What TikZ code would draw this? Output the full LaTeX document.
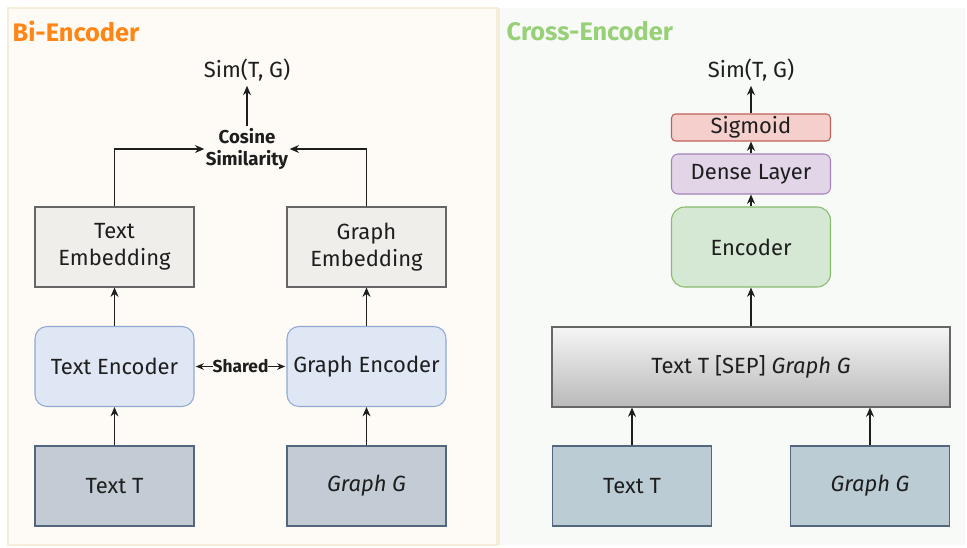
\documentclass[tikz,border=0pt]{standalone}
\usepackage{fontspec}
\setmainfont{Fira Sans}
\usetikzlibrary{arrows.meta}
\definecolor{bgL}{HTML}{FEFBF6}
\definecolor{bgR}{HTML}{F8FAF8}
\definecolor{edgeL}{HTML}{F5ECD9}
\definecolor{embfill}{HTML}{EFEEEB}
\definecolor{embdraw}{HTML}{666666}
\definecolor{encfill}{HTML}{DFE7F5}
\definecolor{encdraw}{HTML}{8FA9D3}
\definecolor{infill}{HTML}{C3CCD5}
\definecolor{infillR}{HTML}{BCCCD5}
\definecolor{indraw}{HTML}{52677D}
\definecolor{sigfill}{HTML}{F4CFCC}
\definecolor{sigdraw}{HTML}{C0605B}
\definecolor{densefill}{HTML}{E1D5E7}
\definecolor{densedraw}{HTML}{A582B8}
\definecolor{gfill}{HTML}{D5E8D4}
\definecolor{gdraw}{HTML}{88BB6C}
\definecolor{orangeT}{HTML}{FF8514}
\definecolor{greenT}{HTML}{97D077}
\definecolor{ink}{HTML}{1E1E1E}
\begin{document}
\begin{tikzpicture}[x=0.75pt,y=-0.75pt,
  txt/.style={font=\fontsize{16.5}{20}\selectfont, text=ink, align=center},
  boxbase/.style={txt, minimum width=159*0.75pt, minimum height=80*0.75pt, inner sep=0pt, line width=0.8pt},
  embbox/.style={boxbase, draw=embdraw, fill=embfill},
  encbox/.style={boxbase, draw=encdraw, fill=encfill, rounded corners=9pt},
  inbox/.style={boxbase, draw=indraw, fill=infill},
  arr/.style={-{Stealth[length=7pt,width=6pt]}, line width=0.8pt, draw=ink},
  title/.style={font=\fontsize{19}{21}\selectfont\bfseries, anchor=west}
]
\useasboundingbox (0,0) rectangle (967,547);
% panels
\fill[white] (0,0) rectangle (967,547);
\draw[fill=bgL, draw=edgeL, line width=0.8pt] (8,8) rectangle (497,545);
\fill[bgR] (499,8) rectangle (965,545);
\draw[edgeL, line width=0.8pt] (499,8) -- (499,545);
\node[title, text=orangeT] (tl) at (8,31) {Bi-Encoder};
\node[title, text=greenT] (tr) at (502,31) {Cross-Encoder};

% Bi-encoder
\node[txt] (sim1) at (247,70) {Sim(T, G)};
\node[txt, font=\fontsize{14}{17}\selectfont\bfseries, inner sep=1pt] (cos) at (247,149) {Cosine\\Similarity};
\node[embbox] (temb) at (114.5,247) {Text\\Embedding};
\node[embbox] (gemb) at (366.5,247) {Graph\\Embedding};
\node[encbox] (tenc) at (114.5,366.5) {Text Encoder};
\node[encbox] (genc) at (366.5,366.5) {Graph Encoder};
\node[inbox] (tT) at (114.5,486) {Text T};
\node[inbox] (gG) at (366.5,486) {\textit{Graph G}};

\draw[arr] (cos.north) -- (sim1.south);
\draw[arr] (temb.north) |- ([xshift=0pt]cos.west);
\draw[arr] (gemb.north) |- ([xshift=0pt]cos.east);
\draw[arr] (tenc.north) -- (temb.south);
\draw[arr] (genc.north) -- (gemb.south);
\draw[arr] (tT.north) -- (tenc.south);
\draw[arr] (gG.north) -- (genc.south);
\draw[{Stealth[length=6pt,width=5pt]}-{Stealth[length=6pt,width=5pt]}, line width=0.8pt, draw=ink] ([xshift=1pt]tenc.east) -- node[fill=bgL, inner sep=0pt, font=\fontsize{13}{14}\selectfont\bfseries, text=ink] (shared) {Shared} ([xshift=-1pt]genc.west);

% Cross-encoder
\node[txt] (sim2) at (751,70) {Sim(T, G)};
\node[boxbase, minimum height=27*0.75pt, draw=sigdraw, fill=sigfill, rounded corners=3pt] (sig) at (751,127.5) {Sigmoid};
\node[boxbase, minimum height=40*0.75pt, draw=densedraw, fill=densefill, rounded corners=5pt] (dense) at (751,174) {Dense Layer};
\node[boxbase, draw=gdraw, fill=gfill, rounded corners=10pt] (enc) at (751,247) {Encoder};
\node[boxbase, minimum width=398*0.75pt, draw=embdraw, top color=gray!8, bottom color=gray!55] (cat) at (751,367) {Text T [SEP] \textit{Graph G}};
\node[inbox, fill=infillR] (tT2) at (632,486) {Text T};
\node[inbox, fill=infillR] (gG2) at (870,486) {\textit{Graph G}};

\draw[arr] (sig.north) -- (sim2.south);
\draw[arr] (dense.north) -- (sig.south);
\draw[arr] (enc.north) -- (dense.south);
\draw[arr] (cat.north) -- (enc.south);
\draw[arr] (tT2.north) -- (tT2.north |- cat.south);
\draw[arr] (gG2.north) -- (gG2.north |- cat.south);
\end{tikzpicture}
\end{document}
